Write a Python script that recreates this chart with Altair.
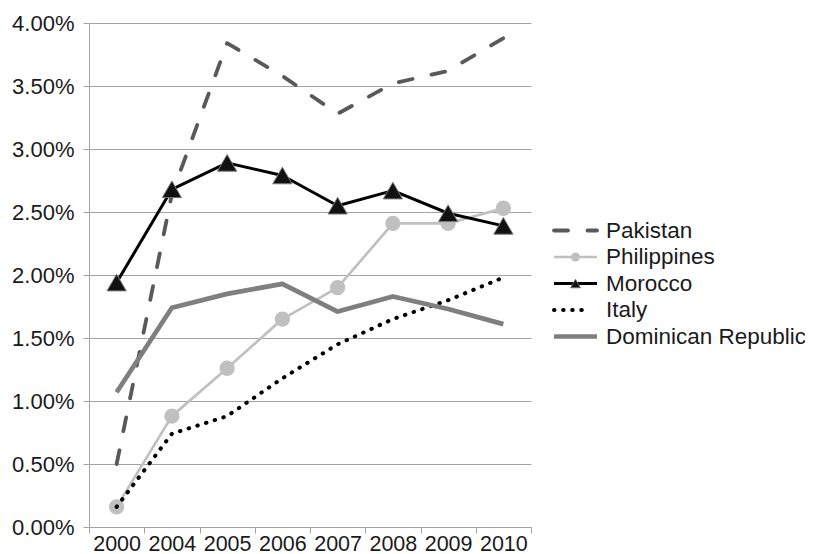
import altair as alt
import pandas as pd

# ---------------- data ----------------
years = ["2000", "2004", "2005", "2006", "2007", "2008", "2009", "2010"]
series_names = ["Pakistan", "Philippines", "Morocco", "Italy", "Dominican Republic"]
pakistan = [0.50, 2.64, 3.84, 3.58, 3.28, 3.52, 3.62, 3.88]
philippines = [0.16, 0.88, 1.26, 1.65, 1.90, 2.41, 2.41, 2.53]
morocco = [1.94, 2.68, 2.89, 2.79, 2.55, 2.67, 2.49, 2.39]
italy = [0.16, 0.74, 0.88, 1.18, 1.45, 1.65, 1.80, 1.98]
dominican = [1.07, 1.74, 1.85, 1.93, 1.71, 1.83, 1.73, 1.61]
y_ticks = [0.0, 0.005, 0.01, 0.015, 0.02, 0.025, 0.03, 0.035, 0.04]

values_by_series = [pakistan, philippines, morocco, italy, dominican]
rows = []
for name, vals in zip(series_names, values_by_series):
    for yr, v in zip(years, vals):
        rows.append({"year": yr, "series": name, "value": v / 100.0})
df = pd.DataFrame(rows)

# ---------------- layout / style ----------------
W, H = 442, 504
FONT = "Liberation Sans"
GRID = "#a3a3a3"

styles = {
    "Pakistan": dict(color="#595959", strokeWidth=3.8, strokeDash=[14, 19.5], strokeCap="round"),
    "Philippines": dict(color="#c0c0c0", strokeWidth=2.7, strokeCap="butt"),
    "Morocco": dict(color="#000000", strokeWidth=3, strokeCap="butt"),
    "Italy": dict(color="#000000", strokeWidth=4, strokeDash=[0.5, 8.6], strokeCap="round"),
    "Dominican Republic": dict(color="#7f7f7f", strokeWidth=4.7, strokeCap="butt"),
}

xenc = alt.X(
    "year:O",
    sort=years,
    bandPosition=0.5,
    scale=alt.Scale(type="band", paddingInner=0, paddingOuter=0),
    axis=alt.Axis(
        title=None, labelAngle=0, tickBand="extent", labelOverlap=False,
        labelFont=FONT, labelFontSize=21.5, labelColor="#1a1a1a",
        domainColor=GRID, tickColor=GRID, tickSize=6, labelPadding=0,
        grid=False,
    ),
)
yenc = alt.Y(
    "value:Q",
    scale=alt.Scale(domain=[0, 0.04], nice=False, zero=True),
    axis=alt.Axis(
        title=None, format=".2%", values=y_ticks,
        labelFont=FONT, labelFontSize=22, labelColor="#1a1a1a",
        domainColor=GRID, tickColor=GRID, tickSize=6, labelPadding=9,
        grid=True, gridColor=GRID, gridWidth=1.2,
    ),
)

base = alt.Chart(df)
layers = []
for name in series_names:
    layers.append(
        base.transform_filter(alt.datum.series == name)
        .mark_line(strokeJoin="round", **styles[name])
        .encode(x=xenc, y=yenc)
    )
    if name == "Philippines":
        layers.append(
            base.transform_filter(alt.datum.series == name)
            .mark_point(shape="circle", filled=True, size=235, color="#c0c0c0", opacity=1)
            .encode(x=xenc, y=yenc)
        )
    if name == "Morocco":
        layers.append(
            base.transform_filter(alt.datum.series == name)
            .mark_point(shape="triangle-up", filled=True, size=370, fill="#111111",
                        stroke="#7a7a7a", strokeWidth=1, opacity=1)
            .encode(x=xenc, y=yenc)
        )
main = alt.layer(*layers)

# ---------------- legend (own scales, no axes) ----------------
leg_row0, leg_step = 207.5, 26.5
leg = pd.DataFrame({
    "series": series_names,
    "ly": [leg_row0 + leg_step * i for i in range(len(series_names))],
})
leg["x0"] = 465
leg["x1"] = 508
leg["xm"] = 486.5
leg["xt"] = 517
leg.loc[leg.series == "Italy", "x1"] = 494

lsx = alt.Scale(domain=[0, W], nice=False, zero=False)
lsy = alt.Scale(domain=[H, 0], nice=False, zero=False)
lbase = alt.Chart(leg)
leg_layers = []
for name in series_names:
    leg_layers.append(
        lbase.transform_filter(alt.datum.series == name)
        .mark_rule(**styles[name])
        .encode(x=alt.X("x0:Q", scale=lsx, axis=None), x2="x1:Q",
                y=alt.Y("ly:Q", scale=lsy, axis=None))
    )
leg_layers.append(
    lbase.transform_filter(alt.datum.series == "Philippines")
    .mark_point(shape="circle", filled=True, size=80, color="#c0c0c0", opacity=1)
    .encode(x=alt.X("xm:Q", scale=lsx, axis=None), y=alt.Y("ly:Q", scale=lsy, axis=None))
)
leg_layers.append(
    lbase.transform_filter(alt.datum.series == "Morocco")
    .mark_point(shape="triangle-up", filled=True, size=100, fill="#111111",
                stroke="#7a7a7a", strokeWidth=0.8, opacity=1)
    .encode(x=alt.X("xm:Q", scale=lsx, axis=None), y=alt.Y("ly:Q", scale=lsy, axis=None))
)
leg_layers.append(
    lbase.mark_text(align="left", baseline="middle", font=FONT, fontSize=22.5, color="#1a1a1a")
    .encode(x=alt.X("xt:Q", scale=lsx, axis=None), y=alt.Y("ly:Q", scale=lsy, axis=None),
            text="series:N")
)
legend = alt.layer(*leg_layers)

chart = (
    alt.layer(main, legend)
    .resolve_scale(x="independent", y="independent")
    .properties(
        width=W, height=H,
        autosize=alt.AutoSizeParams(type="none"),
        padding={"left": 81, "top": 15, "right": 274, "bottom": 27},
        background="white",
    )
    .configure_view(stroke=None)
)

chart.save("out.html", embed_options={"renderer": "svg", "actions": False})
